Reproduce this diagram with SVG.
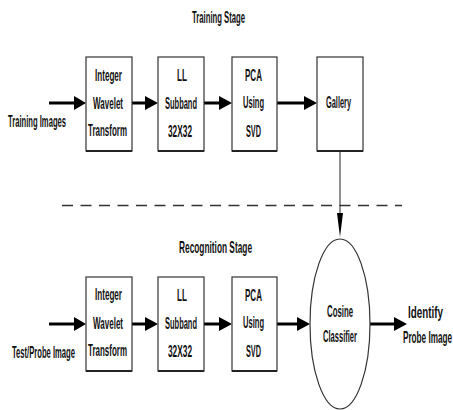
<svg xmlns="http://www.w3.org/2000/svg" width="453" height="410" viewBox="0 0 453 410">
<style>
text{font-family:"Liberation Sans",Arial,sans-serif;font-weight:bold;font-size:17px;fill:#111;text-anchor:middle;lengthAdjust:spacingAndGlyphs}
.box{fill:#fff;stroke:#333;stroke-width:1.2}
.bot{stroke:#222;stroke-width:2}
.arr{stroke:#000;stroke-width:3;fill:none}
.head{fill:#000}
.thin{stroke:#222;stroke-width:1;fill:none}
.dash{stroke:#333;stroke-width:1.5;stroke-dasharray:11 7.5;fill:none}
</style>
<rect width="453" height="410" fill="#fff"/>
<g id="titles">
<text transform="translate(218.5 23) scale(.5 1)" textLength="106" lengthAdjust="spacingAndGlyphs">Training Stage</text>
<text transform="translate(215.5 253) scale(.5 1)" textLength="146" lengthAdjust="spacingAndGlyphs">Recognition  Stage</text>
</g>
<g id="separator"><line class="dash" x1="62" y1="205.5" x2="402" y2="205.5"/></g>
<g id="connectors">
<line class="arr" x1="49" y1="103" x2="76" y2="103"/><polygon class="head" points="74,96 86,103 74,110"/>
<line class="arr" x1="132" y1="103" x2="147" y2="103"/><polygon class="head" points="145,96 158,103 145,110"/>
<line class="arr" x1="204" y1="103" x2="221" y2="103"/><polygon class="head" points="219,96 232,103 219,110"/>
<line class="arr" x1="277" y1="103" x2="306" y2="103"/><polygon class="head" points="304,96 317,103 304,110"/>
<line class="thin" x1="340" y1="151" x2="340" y2="215"/><polygon class="head" points="337,213 343,213 340,237"/>
<line class="arr" x1="49" y1="324" x2="76" y2="324"/><polygon class="head" points="74,317 86,324 74,331"/>
<line class="arr" x1="132" y1="324" x2="147" y2="324"/><polygon class="head" points="145,317 158,324 145,331"/>
<line class="arr" x1="204" y1="324" x2="221" y2="324"/><polygon class="head" points="219,317 232,324 219,331"/>
<line class="arr" x1="277" y1="324" x2="299" y2="324"/><polygon class="head" points="297,317 310,324 297,331"/>
<line class="arr" x1="370" y1="324" x2="396" y2="324"/><polygon class="head" points="394,317 407,324 394,331"/>
</g>
<g id="training-images"><text transform="translate(37 127) scale(.5 1)" textLength="116" lengthAdjust="spacingAndGlyphs">Training Images</text></g>
<g id="iwt-train">
<rect class="box" x="86" y="57" width="46" height="94"/><line class="bot" x1="86" y1="151" x2="132" y2="151"/>
<text transform="translate(108.5 81) scale(.5 1)" textLength="54" lengthAdjust="spacingAndGlyphs">Integer</text>
<text transform="translate(108 109) scale(.5 1)" textLength="60" lengthAdjust="spacingAndGlyphs">Wavelet</text>
<text transform="translate(107.5 136) scale(.5 1)" textLength="78" lengthAdjust="spacingAndGlyphs">Transform</text>
</g>
<g id="ll-train">
<rect class="box" x="158" y="57" width="46" height="94"/><line class="bot" x1="158" y1="151" x2="204" y2="151"/>
<text transform="translate(182 81) scale(.5 1)" textLength="20" lengthAdjust="spacingAndGlyphs">LL</text>
<text transform="translate(181 109) scale(.5 1)" textLength="64" lengthAdjust="spacingAndGlyphs">Subband</text>
<text transform="translate(180 137) scale(.5 1)" textLength="48" lengthAdjust="spacingAndGlyphs">32X32</text>
</g>
<g id="pca-train">
<rect class="box" x="232" y="57" width="45" height="94"/><line class="bot" x1="232" y1="151" x2="277" y2="151"/>
<text transform="translate(253.5 81) scale(.5 1)" textLength="34" lengthAdjust="spacingAndGlyphs">PCA</text>
<text transform="translate(253.5 108) scale(.5 1)" textLength="42" lengthAdjust="spacingAndGlyphs">Using</text>
<text transform="translate(253.5 137) scale(.5 1)" textLength="30" lengthAdjust="spacingAndGlyphs">SVD</text>
</g>
<g id="gallery">
<rect class="box" x="317" y="57" width="46" height="94"/><line class="bot" x1="317" y1="151" x2="363" y2="151"/>
<text transform="translate(338.5 108) scale(.5 1)" textLength="50" lengthAdjust="spacingAndGlyphs">Gallery</text>
</g>
<g id="test-image"><text transform="translate(43.5 358) scale(.5 1)" textLength="126" lengthAdjust="spacingAndGlyphs">Test/Probe Image</text></g>
<g id="iwt-test">
<rect class="box" x="86" y="277" width="46" height="94"/><line class="bot" x1="86" y1="371" x2="132" y2="371"/>
<text transform="translate(108.5 300) scale(.5 1)" textLength="54" lengthAdjust="spacingAndGlyphs">Integer</text>
<text transform="translate(108 329) scale(.5 1)" textLength="60" lengthAdjust="spacingAndGlyphs">Wavelet</text>
<text transform="translate(107.5 356) scale(.5 1)" textLength="78" lengthAdjust="spacingAndGlyphs">Transform</text>
</g>
<g id="ll-test">
<rect class="box" x="158" y="277" width="46" height="94"/><line class="bot" x1="158" y1="371" x2="204" y2="371"/>
<text transform="translate(182 301) scale(.5 1)" textLength="20" lengthAdjust="spacingAndGlyphs">LL</text>
<text transform="translate(181 329) scale(.5 1)" textLength="64" lengthAdjust="spacingAndGlyphs">Subband</text>
<text transform="translate(180 357) scale(.5 1)" textLength="48" lengthAdjust="spacingAndGlyphs">32X32</text>
</g>
<g id="pca-test">
<rect class="box" x="232" y="277" width="45" height="94"/><line class="bot" x1="232" y1="371" x2="277" y2="371"/>
<text transform="translate(253.5 301) scale(.5 1)" textLength="34" lengthAdjust="spacingAndGlyphs">PCA</text>
<text transform="translate(253.5 328) scale(.5 1)" textLength="42" lengthAdjust="spacingAndGlyphs">Using</text>
<text transform="translate(253.5 357) scale(.5 1)" textLength="30" lengthAdjust="spacingAndGlyphs">SVD</text>
</g>
<g id="cosine-classifier">
<ellipse cx="340" cy="324" rx="30" ry="85" fill="#fff" stroke="#333" stroke-width="1.2"/>
<text transform="translate(340 317) scale(.5 1)" textLength="52" lengthAdjust="spacingAndGlyphs">Cosine</text>
<text transform="translate(340 342) scale(.5 1)" textLength="68" lengthAdjust="spacingAndGlyphs">Classifier</text>
</g>
<g id="identify">
<text transform="translate(425.5 318) scale(.5 1)" textLength="70" lengthAdjust="spacingAndGlyphs">Identify</text>
<text transform="translate(427.5 343) scale(.5 1)" textLength="98" lengthAdjust="spacingAndGlyphs">Probe Image</text>
</g>
</svg>
